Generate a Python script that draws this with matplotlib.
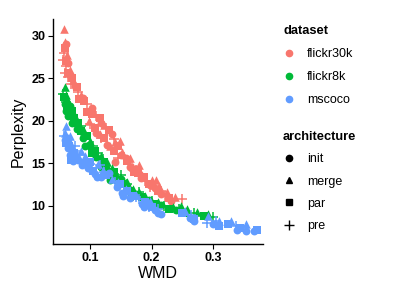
import matplotlib
matplotlib.use("Agg")
import matplotlib.pyplot as plt
from matplotlib.lines import Line2D

plt.rcParams['font.family'] = ['Liberation Sans', 'DejaVu Sans']

datasets = ["flickr30k", "flickr8k", "mscoco"]
architectures = ["init", "merge", "par", "pre"]
colors = {"flickr30k": "#F8766D", "flickr8k": "#00BA38", "mscoco": "#619CFF"}
markers = {"init": "o", "merge": "^", "par": "s", "pre": "+"}

# WMD (x) and Perplexity (y) per dataset / architecture
flickr30k_init_x = [0.060, 0.063, 0.067, 0.075, 0.088, 0.102, 0.118, 0.135, 0.141, 0.150, 0.165, 0.182, 0.198, 0.215, 0.232, 0.110, 0.128, 0.158, 0.175, 0.205]
flickr30k_init_y = [29.0, 26.8, 25.4, 24.1, 22.7, 21.5, 19.8, 18.4, 15.1, 16.0, 14.6, 13.3, 12.4, 11.4, 10.6, 18.6, 17.2, 15.6, 14.3, 12.1]
flickr30k_merge_x = [0.057, 0.059, 0.062, 0.066, 0.072, 0.085, 0.105, 0.122, 0.140, 0.152, 0.170, 0.185, 0.200, 0.212, 0.225, 0.238, 0.098, 0.115, 0.132, 0.148, 0.165, 0.180, 0.208]
flickr30k_merge_y = [30.8, 29.3, 27.8, 26.0, 24.8, 23.0, 21.0, 19.5, 17.5, 16.3, 14.6, 13.6, 13.0, 12.3, 11.6, 11.0, 20.0, 18.4, 17.0, 17.6, 15.6, 14.8, 13.0]
flickr30k_par_x = [0.058, 0.061, 0.064, 0.070, 0.078, 0.090, 0.103, 0.115, 0.130, 0.145, 0.160, 0.178, 0.195, 0.210, 0.228, 0.082, 0.095, 0.108, 0.122, 0.138, 0.172, 0.188]
flickr30k_par_y = [28.6, 27.0, 25.6, 25.0, 24.0, 22.4, 20.8, 20.3, 18.9, 17.0, 15.3, 13.9, 12.6, 11.8, 10.9, 22.6, 21.0, 19.2, 18.0, 16.4, 14.0, 13.4]
flickr30k_pre_x = [0.055, 0.057, 0.060, 0.063, 0.068, 0.080, 0.095, 0.110, 0.125, 0.138, 0.155, 0.175, 0.190, 0.205, 0.222, 0.250, 0.058, 0.100, 0.118, 0.145, 0.168, 0.198, 0.215]
flickr30k_pre_y = [27.2, 28.0, 26.5, 25.2, 24.3, 23.4, 22.0, 20.6, 19.2, 17.9, 15.8, 14.2, 12.9, 12.0, 11.2, 10.8, 25.6, 19.6, 18.0, 15.6, 14.6, 12.2, 11.8]

flickr8k_init_x = [0.059, 0.061, 0.064, 0.070, 0.078, 0.088, 0.098, 0.110, 0.125, 0.140, 0.158, 0.175, 0.195, 0.215, 0.240, 0.066, 0.092, 0.118, 0.132, 0.150]
flickr8k_init_y = [22.0, 21.2, 20.6, 19.8, 19.0, 18.0, 17.2, 15.8, 14.5, 13.4, 12.3, 11.4, 10.7, 10.1, 9.5, 21.8, 17.0, 14.6, 13.0, 13.2]
flickr8k_merge_x = [0.058, 0.060, 0.063, 0.068, 0.082, 0.100, 0.118, 0.135, 0.150, 0.170, 0.190, 0.210, 0.235, 0.258, 0.275, 0.292, 0.075, 0.090, 0.128, 0.160, 0.180, 0.248]
flickr8k_merge_y = [24.0, 23.0, 22.4, 21.0, 19.6, 17.6, 15.9, 14.4, 13.2, 12.0, 11.1, 10.4, 9.9, 9.6, 9.3, 9.0, 20.6, 18.8, 15.2, 12.8, 11.6, 10.0]
flickr8k_par_x = [0.057, 0.062, 0.066, 0.074, 0.085, 0.095, 0.108, 0.122, 0.145, 0.165, 0.185, 0.205, 0.228, 0.255, 0.285, 0.070, 0.080, 0.102, 0.138, 0.155]
flickr8k_par_y = [22.8, 21.8, 21.4, 20.3, 18.8, 18.2, 16.5, 15.2, 13.0, 11.8, 11.0, 10.2, 9.6, 9.2, 8.8, 21.2, 19.8, 16.2, 14.0, 12.6]
flickr8k_pre_x = [0.056, 0.060, 0.065, 0.072, 0.090, 0.105, 0.120, 0.138, 0.150, 0.160, 0.180, 0.200, 0.220, 0.245, 0.270, 0.300, 0.084, 0.113, 0.130, 0.170]
flickr8k_pre_y = [23.2, 22.2, 21.0, 20.2, 18.4, 17.0, 15.5, 13.8, 13.6, 12.6, 11.6, 10.6, 10.0, 9.6, 9.1, 8.7, 19.4, 16.2, 13.8, 11.2]

mscoco_init_x = [0.059, 0.063, 0.066, 0.072, 0.079, 0.086, 0.096, 0.108, 0.118, 0.130, 0.143, 0.152, 0.165, 0.185, 0.205, 0.215, 0.262, 0.300, 0.340, 0.368, 0.080, 0.097, 0.111, 0.154, 0.187, 0.210, 0.270, 0.355]
mscoco_init_y = [17.8, 16.8, 16.0, 15.3, 15.6, 14.8, 14.4, 13.8, 13.4, 13.9, 12.2, 11.5, 10.9, 10.2, 9.5, 9.0, 8.6, 7.8, 7.2, 7.0, 15.4, 14.5, 13.4, 11.1, 9.9, 9.2, 8.2, 7.0]
mscoco_merge_x = [0.058, 0.061, 0.064, 0.070, 0.092, 0.112, 0.135, 0.158, 0.175, 0.198, 0.255, 0.292, 0.330, 0.355, 0.066, 0.085, 0.120, 0.145, 0.310]
mscoco_merge_y = [18.6, 19.4, 18.0, 17.0, 15.9, 14.9, 13.2, 12.0, 11.3, 10.6, 9.4, 8.8, 8.2, 7.8, 18.2, 16.4, 14.2, 12.8, 8.2]
mscoco_par_x = [0.060, 0.065, 0.074, 0.090, 0.104, 0.125, 0.148, 0.170, 0.190, 0.250, 0.270, 0.310, 0.345, 0.372, 0.068, 0.100, 0.160, 0.200, 0.325]
mscoco_par_y = [17.4, 17.0, 16.2, 15.0, 14.1, 13.6, 12.6, 11.2, 10.4, 9.2, 8.4, 7.6, 7.4, 7.1, 15.4, 15.2, 11.8, 9.8, 7.8]
mscoco_pre_x = [0.057, 0.062, 0.068, 0.082, 0.100, 0.122, 0.140, 0.160, 0.180, 0.195, 0.210, 0.265, 0.305, 0.338, 0.075, 0.115, 0.175, 0.290]
mscoco_pre_y = [18.2, 17.6, 16.6, 16.0, 14.9, 14.0, 12.8, 11.4, 10.8, 9.9, 9.6, 8.9, 8.2, 7.6, 17.0, 14.8, 11.0, 8.0]

data = {
    ("flickr30k", "init"): (flickr30k_init_x, flickr30k_init_y),
    ("flickr30k", "merge"): (flickr30k_merge_x, flickr30k_merge_y),
    ("flickr30k", "par"): (flickr30k_par_x, flickr30k_par_y),
    ("flickr30k", "pre"): (flickr30k_pre_x, flickr30k_pre_y),
    ("flickr8k", "init"): (flickr8k_init_x, flickr8k_init_y),
    ("flickr8k", "merge"): (flickr8k_merge_x, flickr8k_merge_y),
    ("flickr8k", "par"): (flickr8k_par_x, flickr8k_par_y),
    ("flickr8k", "pre"): (flickr8k_pre_x, flickr8k_pre_y),
    ("mscoco", "init"): (mscoco_init_x, mscoco_init_y),
    ("mscoco", "merge"): (mscoco_merge_x, mscoco_merge_y),
    ("mscoco", "par"): (mscoco_par_x, mscoco_par_y),
    ("mscoco", "pre"): (mscoco_pre_x, mscoco_pre_y),
}

xticks = [0.1, 0.2, 0.3]
xtick_labels = ["0.1", "0.2", "0.3"]
yticks = [10, 15, 20, 25, 30]
ytick_labels = ["10", "15", "20", "25", "30"]

sizes = {"init": 32, "merge": 38, "par": 28, "pre": 48}

fig = plt.figure(figsize=(3.94, 2.93), dpi=100)
ax = fig.add_axes([53 / 394, 1 - 244 / 293, 210 / 394, 225 / 293])

for ds in datasets:
    for arch in architectures:
        xs, ys = data[(ds, arch)]
        kw = dict(s=sizes[arch], marker=markers[arch], color=colors[ds])
        if arch == "pre":
            ax.scatter(xs, ys, linewidths=1.1, **kw)
        else:
            ax.scatter(xs, ys, linewidths=0, **kw)

ax.set_xlim(0.039, 0.382)
ax.set_ylim(5.5, 32.0)
ax.set_xticks(xticks)
ax.set_xticklabels(xtick_labels)
ax.set_yticks(yticks)
ax.set_yticklabels(ytick_labels)
for lab in ax.get_xticklabels() + ax.get_yticklabels():
    lab.set_fontweight("bold")
    lab.set_fontsize(9)
    lab.set_color("black")
ax.tick_params(direction="out", length=3.5, width=0.8, color="black", pad=2)
for s in ["top", "right"]:
    ax.spines[s].set_visible(False)
for s in ["left", "bottom"]:
    ax.spines[s].set_linewidth(1.0)
    ax.spines[s].set_color("black")
ax.set_xlabel("WMD", fontsize=11.5, labelpad=2)
ax.set_ylabel("Perplexity", fontsize=11.5, labelpad=4)

ds_handles = [Line2D([], [], marker="o", linestyle="", color=colors[d], markersize=4.5) for d in datasets]
leg1 = fig.legend(ds_handles, datasets, loc="upper left", bbox_to_anchor=(278 / 394, 1 - 20 / 293),
                  frameon=False, title="dataset", fontsize=9, alignment="left",
                  title_fontproperties={"weight": "bold", "size": 9.3},
                  handlelength=1.0, handletextpad=0.9, labelspacing=0.88, borderaxespad=0)
arch_handles = []
for a in architectures:
    if a == "pre":
        arch_handles.append(Line2D([], [], marker="+", linestyle="", color="black", markersize=7, markeredgewidth=1.0))
    else:
        arch_handles.append(Line2D([], [], marker=markers[a], linestyle="", color="black", markersize=4.5))
leg2 = fig.legend(arch_handles, architectures, loc="upper left", bbox_to_anchor=(278 / 394, 1 - 126 / 293),
                  frameon=False, title="architecture", fontsize=9, alignment="left",
                  title_fontproperties={"weight": "bold", "size": 9.3},
                  handlelength=1.0, handletextpad=0.9, labelspacing=0.82, borderaxespad=0)

fig.savefig("out.png", dpi=100)
